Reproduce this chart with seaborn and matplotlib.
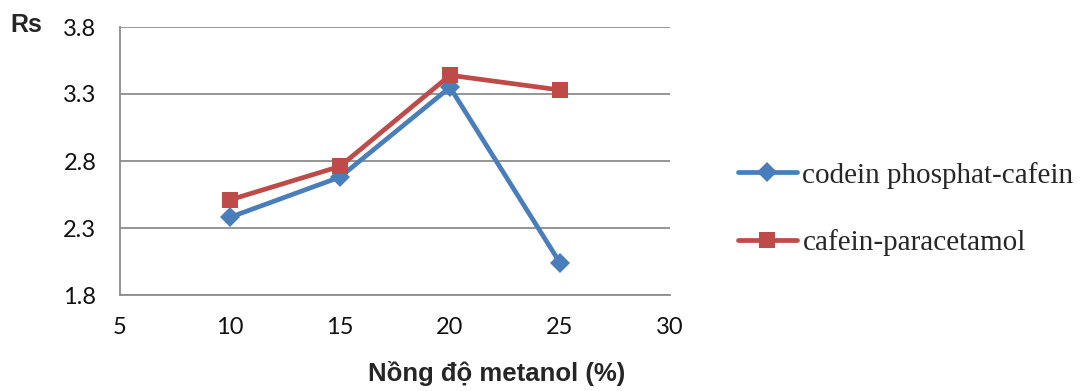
import matplotlib
matplotlib.use("Agg")
import matplotlib.pyplot as plt
import seaborn as sns
import pandas as pd

# Methanol concentration (%) and resolution Rs for the two peak pairs
metanol = [10, 15, 20, 25]
rs_codein_cafein = [2.38, 2.68, 3.35, 2.04]
rs_cafein_paracetamol = [2.51, 2.76, 3.44, 3.33]
series_names = ["codein phosphat-cafein", "cafein-paracetamol"]
x_ticks = [5, 10, 15, 20, 25, 30]
y_ticks = [1.8, 2.3, 2.8, 3.3, 3.8]

df = pd.DataFrame({
    "metanol": metanol * 2,
    "Rs": rs_codein_cafein + rs_cafein_paracetamol,
    "series": [series_names[0]] * len(metanol) + [series_names[1]] * len(metanol),
})

sns.set_style("white")
plt.rcParams["font.family"] = ["Lato", "DejaVu Sans"]

fig = plt.figure(figsize=(10.9, 3.91), dpi=100)
ax = fig.add_axes([120 / 1090, 1 - 295 / 391, 550 / 1090, 268 / 391])

blue = "#4A7EBB"
red = "#BE4B48"
grid_grey = "#8C8C8C"
styles = {
    series_names[0]: dict(color=blue, marker="D", markersize=10),
    series_names[1]: dict(color=red, marker="s", markersize=11),
}
for name in series_names:
    sub = df[df["series"] == name]
    st = styles[name]
    sns.lineplot(data=sub, x="metanol", y="Rs", ax=ax, color=st["color"],
                 marker=st["marker"], markersize=st["markersize"],
                 markeredgewidth=0, linewidth=3.4, label=name, zorder=3)

ax.set_xlim(x_ticks[0], x_ticks[-1])
ax.set_ylim(y_ticks[0], y_ticks[-1])
ax.set_xticks(x_ticks)
ax.set_yticks(y_ticks)
ax.set_yticklabels([f"{v:.1f}" for v in y_ticks])
ax.grid(axis="y", color=grid_grey, linewidth=1.3)
ax.grid(axis="x", visible=False)
for side in ["top", "right"]:
    ax.spines[side].set_visible(False)
for side in ["left", "bottom"]:
    ax.spines[side].set_color(grid_grey)
    ax.spines[side].set_linewidth(1.3)
ax.tick_params(axis="x", direction="out", length=6, width=1.3, color=grid_grey,
               labelsize=17, pad=10, labelcolor="#111111")
ax.tick_params(axis="y", direction="out", length=6, width=1.3, color=grid_grey,
               labelsize=17, pad=11, labelcolor="#111111")
ax.set_xlabel("")
ax.set_ylabel("")

fig.text(10 / 1090, 1 - 25 / 391, "Rs", fontsize=18, fontweight="bold",
         fontfamily="Liberation Sans", va="center", ha="left")
fig.text(497 / 1090, 1 - 374 / 391, "Nồng độ metanol (%)", fontsize=18.5,
         fontweight="bold", fontfamily="Liberation Sans", va="center", ha="center")

ax.legend_.remove()
handles, labels = ax.get_legend_handles_labels()
fig.legend(handles, labels, loc="center left",
           bbox_to_anchor=(712 / 1090, 1 - 209 / 391), frameon=False,
           prop={"family": "Liberation Serif", "size": 21},
           handlelength=2.0, handletextpad=0.2, labelspacing=1.4)

fig.savefig("out.png", dpi=100, facecolor="white")
